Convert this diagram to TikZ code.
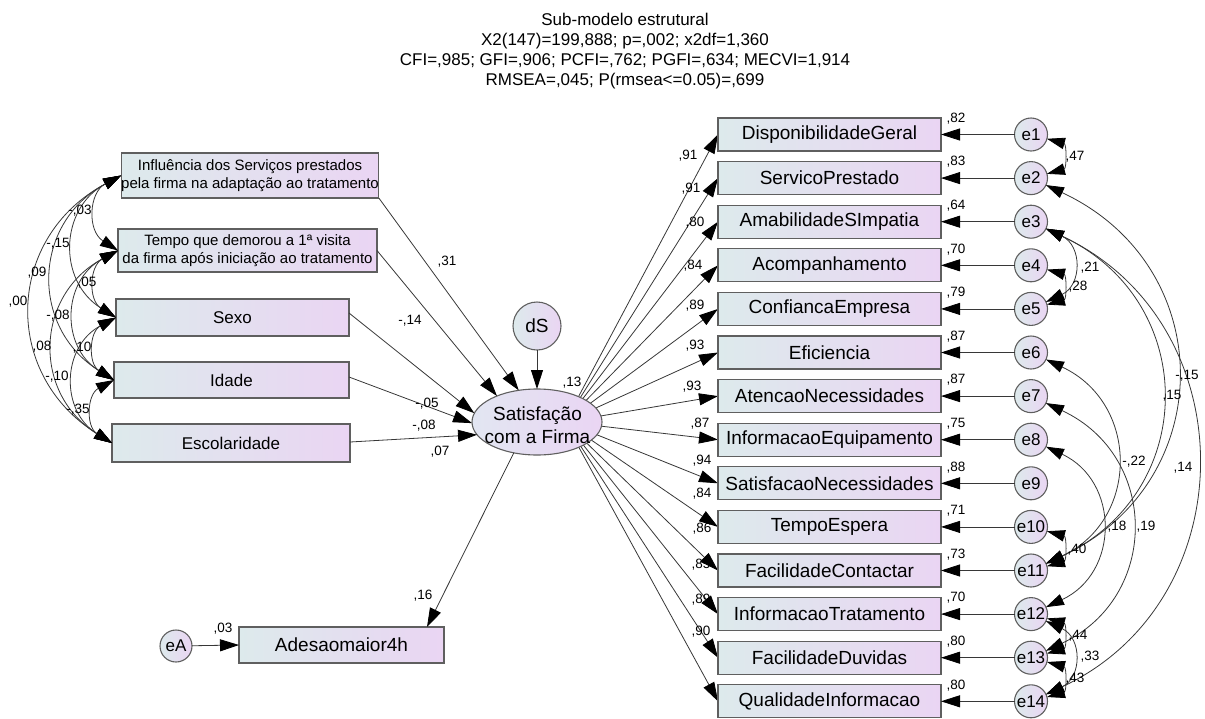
\documentclass[tikz,border=0pt]{standalone}
\usepackage{fontspec}
\setmainfont{Liberation Sans}
\usetikzlibrary{arrows.meta,shapes.geometric,calc}
\definecolor{cL}{RGB}{221,234,236}
\definecolor{cR}{RGB}{234,213,243}
\definecolor{cEL}{RGB}{226,230,242}
\definecolor{ln}{RGB}{55,55,55}
\definecolor{bd}{RGB}{95,95,95}
\pgfdeclarelayer{bg}
\pgfsetlayers{bg,main}
\begin{document}
\begin{tikzpicture}[x=1pt,y=-1pt,
  every node/.style={inner sep=0pt, outer sep=0pt},
  obs/.style={draw=bd, line width=1.1pt, rectangle, left color=cL, right color=cR, font=\fontsize{19}{21}\selectfont},
  lobs/.style={obs, font=\fontsize{17}{19}\selectfont},
  lobstwo/.style={obs, font=\fontsize{15}{18}\selectfont, align=center},
  err/.style={draw=bd, line width=1.1pt, circle, minimum size=33pt, left color=cL, right color=cR, font=\fontsize{17}{19}\selectfont},
  coef/.style={font=\fontsize{13.5}{15}\selectfont},
  ttl/.style={font=\fontsize{17}{20}\selectfont, anchor=base},
  arr/.style={draw=ln, line width=0.8pt, -{Triangle[length=19pt,width=12pt,color=black]}},
  cov/.style={draw=ln, line width=0.8pt, {Triangle[length=18pt,width=11.5pt,color=black]}-{Triangle[length=18pt,width=11.5pt,color=black]}},
]
\useasboundingbox (0,0) rectangle (1205,718);

% title
\node[ttl] (t1) at (625,25) {Sub-modelo estrutural};
\node[ttl] (t2) at (625,45) {X2(147)=199,888; p=,002; x2df=1,360};
\node[ttl] (t3) at (625,65) {CFI=,985; GFI=,906; PCFI=,762; PGFI=,634; MECVI=1,914};
\node[ttl] (t4) at (625,85) {RMSEA=,045; P(rmsea<=0.05)=,699};

% exogenous boxes
\node[lobstwo, minimum width=256pt, minimum height=45pt] (infl) at (250,175.5) {Influência dos Serviços prestados\\pela firma na adaptação ao tratamento};
\node[lobstwo, minimum width=259pt, minimum height=43pt] (tempo) at (247.5,250.5) {Tempo que demorou a 1ª visita\\da firma após iniciação ao tratamento};
\node[lobs, minimum width=233pt, minimum height=37pt] (sexo) at (232.5,317.5) {Sexo};
\node[lobs, minimum width=235pt, minimum height=36pt] (idade) at (231.5,380) {Idade};
\node[lobs, minimum width=238pt, minimum height=38pt] (escol) at (231,443) {Escolaridade};

% latent
\node[draw=bd, line width=1.1pt, ellipse, minimum width=130pt, minimum height=66pt, left color=cEL, right color=cR] (S) at (537,422) {};
\node[font=\fontsize{19}{22}\selectfont, anchor=base] (St1) at (537.5,420) {Satisfação};
\node[font=\fontsize{19}{22}\selectfont, anchor=base] (St2) at (537.5,443) {com a Firma};
\node[ellipse, minimum width=68pt, minimum height=54pt] (Sv) at (565,422) {};
\node[err, minimum size=48pt, font=\fontsize{19}{21}\selectfont] (dS) at (537,326) {dS};

% outcome
\node[obs, minimum width=205pt, minimum height=36pt] (ad) at (341.5,645) {Adesaomaior4h};
\node[err, minimum size=32pt] (eA) at (176,646) {eA};

% indicators
\foreach \t [count=\i] in {DisponibilidadeGeral,ServicoPrestado,AmabilidadeSImpatia,Acompanhamento,ConfiancaEmpresa,Eficiencia,AtencaoNecessidades,InformacaoEquipamento,SatisfacaoNecessidades,TempoEspera,FacilidadeContactar,InformacaoTratamento,FacilidadeDuvidas,QualidadeInformacao}{
  \node[obs, minimum width=223pt, minimum height=33pt] (o\i) at (829.5,{134.5+43.6*(\i-1)}) {\t};
  \node[err] (e\i) at (1031,{134.5+43.6*(\i-1)}) {e\i};
}

% loadings (background so they start inside the ellipse)
\begin{pgfonlayer}{bg}
\foreach \i in {1,...,14}{
  \draw[arr] (Sv) -- (o\i.west);
}
\end{pgfonlayer}
\foreach \i in {1,...,14}{
  \draw[arr] (e\i) -- (o\i.east);
}

% structural paths
\draw[arr] (infl.south east) -- (S.120);
\draw[arr] (tempo.east) -- (S.147);
\draw[arr] ([yshift=4.5pt]sexo.east) -- (S.172);
\draw[arr] ([yshift=3pt]idade.east) -- (S.181);
\draw[arr] ([yshift=1pt]escol.east) -- (S.192);
\draw[arr] (dS) -- (S);
\draw[arr] (S.233) -- ([xshift=85.5pt]ad.north);
\draw[arr] (eA) -- (ad.west);

% left covariances
\foreach \a/\b in {infl/tempo,infl/sexo,infl/idade,infl/escol,tempo/sexo,tempo/idade,tempo/escol,sexo/idade,sexo/escol,idade/escol}{
  \draw[cov] (\a.west) to[bend right=60, looseness=1.25] (\b.west);
}

% right covariances
\foreach \a/\b in {1/2,4/5,10/11,12/13,13/14}{
  \draw[cov] (e\a) to[bend left=75, looseness=1.5] (e\b);
}
\foreach \a/\b in {3/5,12/14}{
  \draw[cov] (e\a) to[bend left=65, looseness=1.4] (e\b);
}
\foreach \a/\b in {2/11,3/11,6/11,7/13,8/12}{
  \draw[cov] (e\a) to[bend left=65, looseness=1.3] (e\b);
}
\draw[cov] (e3) to[bend left=65, looseness=1.22] (e14);

% coefficient labels
\foreach \x/\y/\t in {447/262/{,31},410/321/{-,14},427/404/{-,05},424/426/{-,08},440/452/{,07},572/383/{,13},423/596/{,16},223/629/{,03},
  80/211/{-,03},58/244/{-,15},37/273/{,09},18/302/{,00},87/283/{,05},58/316/{-,08},42/347/{,08},82/348/{,10},57/377/{-,10},78/410/{-,35},
  1075/157/{,47},1090/268/{,21},1078/287/{,28},1187/376/{-,15},1172/396/{,15},1183/468/{,14},1134/462/{-,22},1117/527/{,18},1146/527/{,19},1077/550/{,40},1078/636/{,44},1090/657/{,33},1075/679/{,43}}{
  \node[coef] at (\x,\y) {\t};
}
\foreach \x/\y/\t in {688/156/{,91},691/189/{,91},695/223/{,80},693/266/{,84},695/306/{,89},695/346/{,93},692/387/{,93},700/424/{,87},702/461/{,94},702/494/{,84},702/529/{,86},701/565/{,85},701/600/{,89},701/632/{,90}}{
  \node[coef] at (\x,\y) {\t};
}
\foreach \t [count=\i] in {{,82},{,83},{,64},{,70},{,79},{,87},{,87},{,75},{,88},{,71},{,73},{,70},{,80},{,80}}{
  \node[coef] at (956,{118.5+43.6*(\i-1)}) {\t};
}
\end{tikzpicture}
\end{document}
